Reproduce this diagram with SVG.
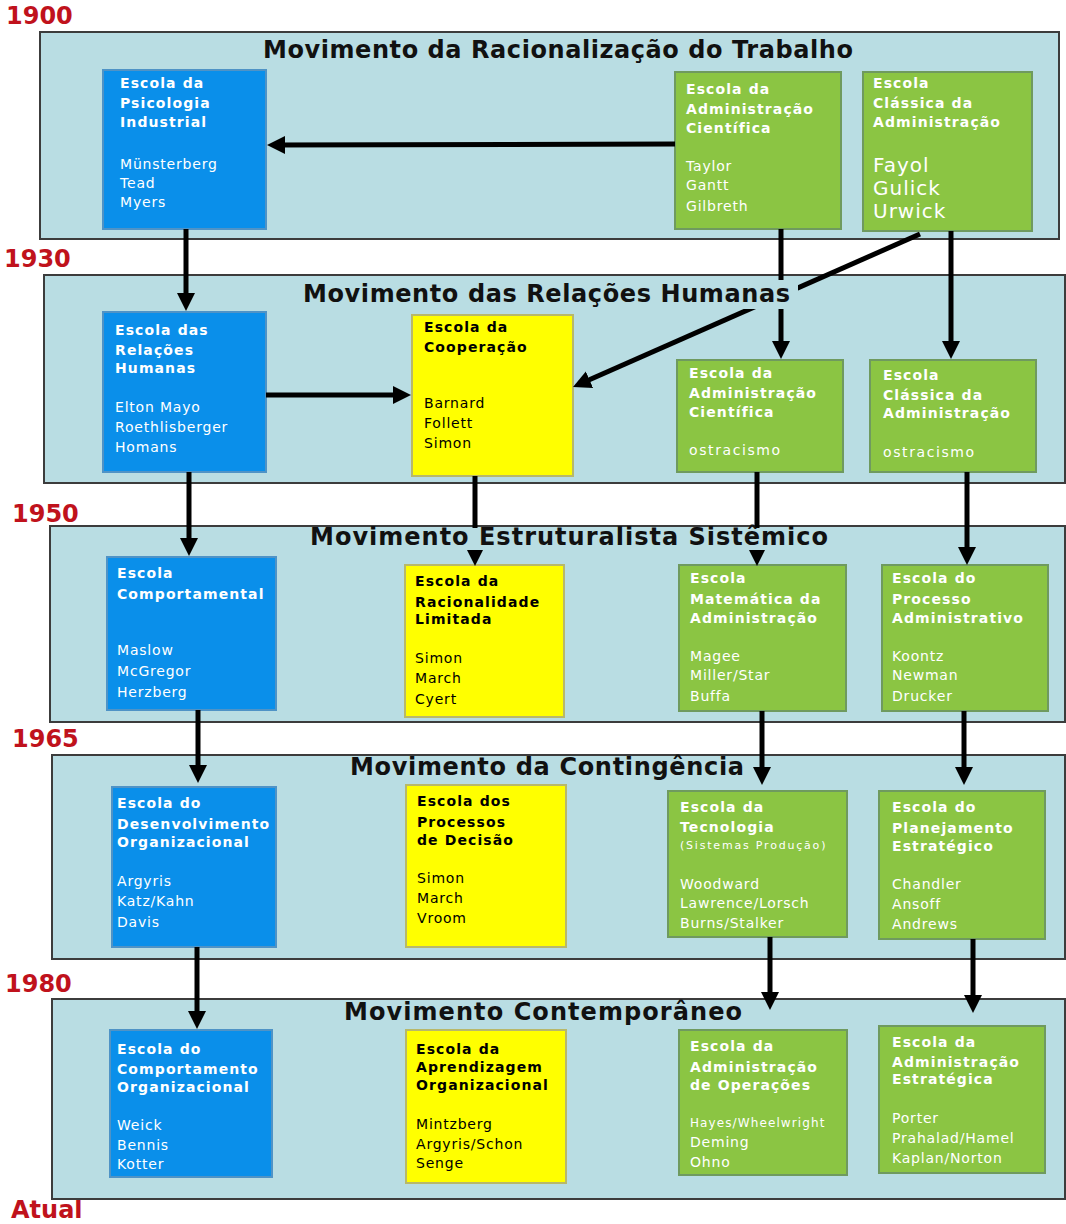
<svg xmlns="http://www.w3.org/2000/svg" width="1066" height="1224" viewBox="0 0 1066 1224">
<defs>
<style>
.yr{font-family:"DejaVu Sans","Liberation Sans",sans-serif;font-weight:bold;font-size:24px;fill:#c0121c}
.panel{fill:#b9dde3;stroke:#3c3c3c;stroke-width:2}
.mask{fill:#b9dde3;stroke:none}
.ttl{font-family:"DejaVu Sans","Liberation Sans",sans-serif;font-weight:bold;font-size:24px;fill:#111}
.blue{fill:#0a8fea;stroke:#4f93c6;stroke-width:2}
.green{fill:#8bc543;stroke:#6f9a5f;stroke-width:2}
.yellow{fill:#ffff00;stroke:#b8b86a;stroke-width:2}
.h{font-family:"DejaVu Sans","Liberation Sans",sans-serif;font-weight:bold;font-size:14px;letter-spacing:1.1px}
.n{font-family:"DejaVu Sans","Liberation Sans",sans-serif;font-size:14px;letter-spacing:0.8px}
.big{font-family:"DejaVu Sans","Liberation Sans",sans-serif;font-size:20px;letter-spacing:1px}
.sm{font-family:"DejaVu Sans","Liberation Sans",sans-serif;font-size:11px;letter-spacing:1.8px}
.sm2{font-family:"DejaVu Sans","Liberation Sans",sans-serif;font-size:12px;letter-spacing:1.1px}
.w{fill:#ffffff}
.k{fill:#000000}
.c{fill:none;stroke:#000;stroke-width:5;marker-end:url(#ah)}
</style>
<marker id="ah" markerUnits="userSpaceOnUse" markerWidth="20" markerHeight="20" refX="10" refY="9" orient="auto">
<path d="M0,0 L18,9 L0,18 z" fill="#000"/>
</marker>
</defs>
<rect x="0" y="0" width="1066" height="1224" fill="#ffffff"/>

<g id="years">
<text class="yr" x="6" y="24">1900</text>
<text class="yr" x="4" y="267">1930</text>
<text class="yr" x="12" y="522">1950</text>
<text class="yr" x="12" y="747">1965</text>
<text class="yr" x="5" y="992">1980</text>
<text class="yr" x="11" y="1218">Atual</text>
</g>

<g id="panels">
<rect id="panel1" class="panel" x="40" y="32" width="1019" height="207"/>
<rect id="panel2" class="panel" x="44" y="275" width="1021" height="208"/>
<rect id="panel3" class="panel" x="50" y="526" width="1015" height="196"/>
<rect id="panel4" class="panel" x="52" y="755" width="1013" height="204"/>
<rect id="panel5" class="panel" x="52" y="999" width="1013" height="200"/>
</g>

<g id="psicologia-industrial">
<rect class="blue" x="103" y="70" width="163" height="159"/>
<text class="h w" x="120" y="88">Escola da</text>
<text class="h w" x="120" y="108">Psicologia</text>
<text class="h w" x="120" y="127">Industrial</text>
<text class="n w" x="120" y="169">Münsterberg</text>
<text class="n w" x="120" y="188">Tead</text>
<text class="n w" x="120" y="207">Myers</text>
</g>
<g id="adm-cientifica-1">
<rect class="green" x="675" y="72" width="166" height="157"/>
<text class="h w" x="686" y="94">Escola da</text>
<text class="h w" x="686" y="114">Administração</text>
<text class="h w" x="686" y="133">Científica</text>
<text class="n w" x="686" y="171">Taylor</text>
<text class="n w" x="686" y="190">Gantt</text>
<text class="n w" x="686" y="211">Gilbreth</text>
</g>
<g id="classica-1">
<rect class="green" x="863" y="72" width="169" height="159"/>
<text class="h w" x="873" y="88">Escola</text>
<text class="h w" x="873" y="108">Clássica da</text>
<text class="h w" x="873" y="127">Administração</text>
<text class="big w" x="873" y="172">Fayol</text>
<text class="big w" x="873" y="195">Gulick</text>
<text class="big w" x="873" y="218">Urwick</text>
</g>

<g id="relacoes-humanas">
<rect class="blue" x="103" y="312" width="163" height="160"/>
<text class="h w" x="115" y="335">Escola das</text>
<text class="h w" x="115" y="355">Relações</text>
<text class="h w" x="115" y="373">Humanas</text>
<text class="n w" x="115" y="412">Elton Mayo</text>
<text class="n w" x="115" y="432">Roethlisberger</text>
<text class="n w" x="115" y="452">Homans</text>
</g>
<g id="cooperacao">
<rect class="yellow" x="412" y="315" width="161" height="161"/>
<text class="h k" x="424" y="332">Escola da</text>
<text class="h k" x="424" y="352">Cooperação</text>
<text class="n k" x="424" y="408">Barnard</text>
<text class="n k" x="424" y="428">Follett</text>
<text class="n k" x="424" y="448">Simon</text>
</g>
<g id="adm-cientifica-2">
<rect class="green" x="677" y="360" width="166" height="112"/>
<text class="h w" x="689" y="378">Escola da</text>
<text class="h w" x="689" y="398">Administração</text>
<text class="h w" x="689" y="417">Científica</text>
<text class="n w" x="689" y="455" style="letter-spacing:1.6px">ostracismo</text>
</g>
<g id="classica-2">
<rect class="green" x="870" y="360" width="166" height="112"/>
<text class="h w" x="883" y="380">Escola</text>
<text class="h w" x="883" y="400">Clássica da</text>
<text class="h w" x="883" y="418">Administração</text>
<text class="n w" x="883" y="457" style="letter-spacing:1.6px">ostracismo</text>
</g>

<g id="comportamental">
<rect class="blue" x="107" y="557" width="169" height="153"/>
<text class="h w" x="117" y="578">Escola</text>
<text class="h w" x="117" y="599">Comportamental</text>
<text class="n w" x="117" y="655">Maslow</text>
<text class="n w" x="117" y="676">McGregor</text>
<text class="n w" x="117" y="697">Herzberg</text>
</g>
<g id="racionalidade-limitada">
<rect class="yellow" x="405" y="565" width="159" height="152"/>
<text class="h k" x="415" y="586">Escola da</text>
<text class="h k" x="415" y="607">Racionalidade</text>
<text class="h k" x="415" y="624">Limitada</text>
<text class="n k" x="415" y="663">Simon</text>
<text class="n k" x="415" y="683">March</text>
<text class="n k" x="415" y="704">Cyert</text>
</g>
<g id="matematica">
<rect class="green" x="679" y="565" width="167" height="146"/>
<text class="h w" x="690" y="583">Escola</text>
<text class="h w" x="690" y="604">Matemática da</text>
<text class="h w" x="690" y="623">Administração</text>
<text class="n w" x="690" y="661">Magee</text>
<text class="n w" x="690" y="680">Miller/Star</text>
<text class="n w" x="690" y="701">Buffa</text>
</g>
<g id="processo-administrativo">
<rect class="green" x="882" y="565" width="166" height="146"/>
<text class="h w" x="892" y="583">Escola do</text>
<text class="h w" x="892" y="604">Processo</text>
<text class="h w" x="892" y="623">Administrativo</text>
<text class="n w" x="892" y="661">Koontz</text>
<text class="n w" x="892" y="680">Newman</text>
<text class="n w" x="892" y="701">Drucker</text>
</g>

<g id="desenvolvimento-organizacional">
<rect class="blue" x="112" y="787" width="164" height="160"/>
<text class="h w" x="117" y="808">Escola do</text>
<text class="h w" x="117" y="829">Desenvolvimento</text>
<text class="h w" x="117" y="847">Organizacional</text>
<text class="n w" x="117" y="886">Argyris</text>
<text class="n w" x="117" y="906">Katz/Kahn</text>
<text class="n w" x="117" y="927">Davis</text>
</g>
<g id="processos-decisao">
<rect class="yellow" x="406" y="785" width="160" height="162"/>
<text class="h k" x="417" y="806">Escola dos</text>
<text class="h k" x="417" y="827">Processos</text>
<text class="h k" x="417" y="845">de Decisão</text>
<text class="n k" x="417" y="883">Simon</text>
<text class="n k" x="417" y="903">March</text>
<text class="n k" x="417" y="923">Vroom</text>
</g>
<g id="tecnologia">
<rect class="green" x="668" y="791" width="179" height="146"/>
<text class="h w" x="680" y="812">Escola da</text>
<text class="h w" x="680" y="832">Tecnologia</text>
<text class="sm w" x="680" y="849">(Sistemas Produção)</text>
<text class="n w" x="680" y="889">Woodward</text>
<text class="n w" x="680" y="908">Lawrence/Lorsch</text>
<text class="n w" x="680" y="928">Burns/Stalker</text>
</g>
<g id="planejamento-estrategico">
<rect class="green" x="879" y="791" width="166" height="148"/>
<text class="h w" x="892" y="812">Escola do</text>
<text class="h w" x="892" y="833">Planejamento</text>
<text class="h w" x="892" y="851">Estratégico</text>
<text class="n w" x="892" y="889">Chandler</text>
<text class="n w" x="892" y="909">Ansoff</text>
<text class="n w" x="892" y="929">Andrews</text>
</g>

<g id="comportamento-organizacional">
<rect class="blue" x="110" y="1030" width="162" height="147"/>
<text class="h w" x="117" y="1054">Escola do</text>
<text class="h w" x="117" y="1074">Comportamento</text>
<text class="h w" x="117" y="1092">Organizacional</text>
<text class="n w" x="117" y="1130">Weick</text>
<text class="n w" x="117" y="1150">Bennis</text>
<text class="n w" x="117" y="1169">Kotter</text>
</g>
<g id="aprendizagem-organizacional">
<rect class="yellow" x="406" y="1030" width="160" height="153"/>
<text class="h k" x="416" y="1054">Escola da</text>
<text class="h k" x="416" y="1072">Aprendizagem</text>
<text class="h k" x="416" y="1090">Organizacional</text>
<text class="n k" x="416" y="1129">Mintzberg</text>
<text class="n k" x="416" y="1149">Argyris/Schon</text>
<text class="n k" x="416" y="1168">Senge</text>
</g>
<g id="operacoes">
<rect class="green" x="679" y="1030" width="168" height="145"/>
<text class="h w" x="690" y="1051">Escola da</text>
<text class="h w" x="690" y="1072">Administração</text>
<text class="h w" x="690" y="1090">de Operações</text>
<text class="sm2 w" x="690" y="1127">Hayes/Wheelwright</text>
<text class="n w" x="690" y="1147">Deming</text>
<text class="n w" x="690" y="1167">Ohno</text>
</g>
<g id="administracao-estrategica">
<rect class="green" x="879" y="1026" width="166" height="147"/>
<text class="h w" x="892" y="1047">Escola da</text>
<text class="h w" x="892" y="1067">Administração</text>
<text class="h w" x="892" y="1084">Estratégica</text>
<text class="n w" x="892" y="1123">Porter</text>
<text class="n w" x="892" y="1143">Prahalad/Hamel</text>
<text class="n w" x="892" y="1163">Kaplan/Norton</text>
</g>

<g id="connectors">
<line class="c" x1="675" y1="144" x2="275" y2="145"/>
<line class="c" x1="186" y1="229" x2="186" y2="303"/>
<line class="c" x1="781" y1="229" x2="781" y2="351"/>
<line class="c" x1="951" y1="231" x2="951" y2="351"/>
<line class="c" x1="920" y1="234" x2="580.3" y2="383.8"/>
<line class="c" x1="266" y1="395" x2="403" y2="395"/>
<line class="c" x1="189" y1="472" x2="189" y2="548"/>
<line class="c" x1="475" y1="476" x2="475" y2="558"/>
<line class="c" x1="757" y1="472" x2="757" y2="558"/>
<line class="c" x1="967" y1="472" x2="967" y2="557"/>
<line class="c" x1="198" y1="710" x2="198" y2="775"/>
<line class="c" x1="762" y1="711" x2="762" y2="777"/>
<line class="c" x1="964" y1="711" x2="964" y2="777"/>
<line class="c" x1="197" y1="947" x2="197" y2="1021"/>
<line class="c" x1="770" y1="937" x2="770" y2="1002"/>
<line class="c" x1="973" y1="939" x2="973" y2="1005"/>
</g>

<g id="titles">
<rect class="mask" x="298" y="280" width="500" height="29"/>
<rect class="mask" x="306" y="528" width="526" height="22"/>
<text class="ttl" x="263" y="58" textLength="590" lengthAdjust="spacing">Movimento da Racionalização do Trabalho</text>
<text class="ttl" x="303" y="302" textLength="487" lengthAdjust="spacing">Movimento das Relações Humanas</text>
<text class="ttl" x="310" y="545" textLength="518" lengthAdjust="spacing">Movimento Estruturalista Sistêmico</text>
<text class="ttl" x="350" y="775" textLength="394" lengthAdjust="spacing">Movimento da Contingência</text>
<text class="ttl" x="344" y="1020" textLength="398" lengthAdjust="spacing">Movimento Contemporâneo</text>
</g>
</svg>
